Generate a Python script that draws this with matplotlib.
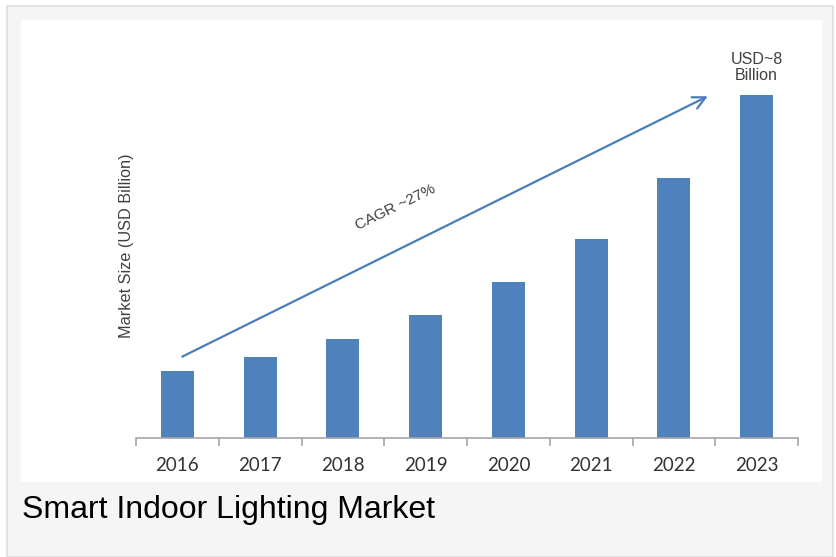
import matplotlib.pyplot as plt
from matplotlib.patches import Rectangle
import numpy as np

years = ["2016", "2017", "2018", "2019", "2020", "2021", "2022", "2023"]
values = [1.56, 1.89, 2.31, 2.87, 3.64, 4.64, 6.06, 8.0]
cagr_label = "CAGR ~27%"
top_label = "USD~8\nBillion"
y_label = "Market Size (USD Billion)"
caption = "Smart Indoor Lighting Market"

W, H = 836, 557
fig = plt.figure(figsize=(W / 100, H / 100), dpi=100, facecolor="white")

def fx(px):
    return px / W

def fy(py):
    return 1 - py / H

# outer gray frame
fig.patches.append(Rectangle((fx(7), 0), fx(833) - fx(7), fy(6), transform=fig.transFigure,
                             facecolor="#f5f5f5", edgecolor="#e2e2e2", lw=1.5, zorder=-2))
# white chart panel
fig.patches.append(Rectangle((fx(21), fy(482)), fx(822) - fx(21), fy(20) - fy(482),
                             transform=fig.transFigure, facecolor="white", edgecolor="none", zorder=-1))

ax = fig.add_axes([fx(136), fy(438), fx(798) - fx(136), fy(30) - fy(438)])
ax.set_facecolor("none")
x = np.arange(len(years))
ax.bar(x, values, width=0.4, color="#4f81bd", zorder=2)
ax.set_xlim(-0.5, len(years) - 0.5)
ax.set_ylim(0, 8.0 * 408 / 343)

for s in ["top", "right", "left"]:
    ax.spines[s].set_visible(False)
ax.spines["bottom"].set_color("#a6a6a6")
ax.spines["bottom"].set_linewidth(1.2)
ax.set_yticks([])
ax.set_xticks(x)
ax.set_xticklabels(years, fontsize=13.5, color="#333333", family=["Lato", "DejaVu Sans"])
ax.tick_params(axis="x", which="major", length=0, pad=14)
ax.set_xticks(np.arange(-0.5, len(years), 1), minor=True)
ax.tick_params(axis="x", which="minor", length=6, color="#a6a6a6", width=1.2)

ax.set_ylabel(y_label, fontsize=11.7, color="#404040", family=["Liberation Sans"])
ax.yaxis.set_label_coords(-0.003, 0.47)

# CAGR arrow
ax.annotate("", xy=(6.44, 8.0), xytext=(0.03, 1.87),
            arrowprops=dict(arrowstyle="->,head_length=0.9,head_width=0.45", color="#4a7ebb", lw=1.6),
            zorder=3)
ax.text(2.63, 5.39, cagr_label, rotation=26, ha="center", va="center", fontsize=11,
        color="#404040", family=["Liberation Sans"])
ax.text(7, values[-1] + 0.27, top_label, ha="center", va="bottom", fontsize=11.5,
        color="#404040", family=["Liberation Sans"], linespacing=1.1)

fig.text(fx(22), fy(510), caption, ha="left", va="center", fontsize=23, color="black",
         family=["Liberation Sans"])

fig.savefig("out.png", dpi=100, facecolor=fig.get_facecolor())
